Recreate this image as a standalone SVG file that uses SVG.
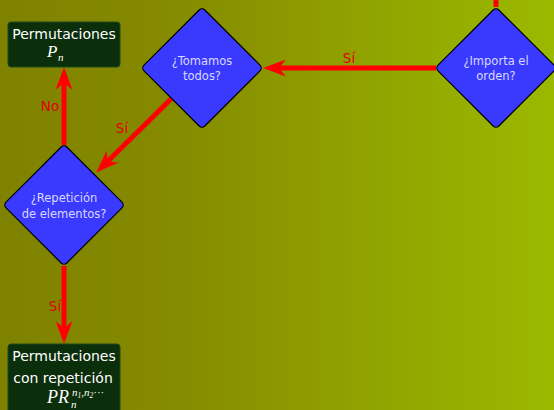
<svg xmlns="http://www.w3.org/2000/svg" width="554" height="410" viewBox="0 0 554 410">
<defs>
<linearGradient id="bg" x1="0" y1="0" x2="1" y2="0">
<stop offset="0" stop-color="#7f8200"/>
<stop offset="0.3" stop-color="#858a00"/>
<stop offset="1" stop-color="#9bb900"/>
</linearGradient>
<marker id="ah" viewBox="0 0 23 17" refX="15" refY="8.5" markerWidth="23" markerHeight="17" orient="auto" markerUnits="userSpaceOnUse">
<path d="M0,0 L23,8.5 L0,17 L7,8.5 Z" fill="#ff0000"/>
</marker>
<style>
.box{fill:#0b2e0b;stroke:#1f4a1f;stroke-width:1}
.dia{fill:#3a3aff;stroke:#000;stroke-width:1.2}
.bt{font-family:"DejaVu Sans",sans-serif;font-size:14px;fill:#ffffff;text-anchor:middle}
.dt{font-family:"DejaVu Sans",sans-serif;font-size:11.5px;fill:#d8d8ff;text-anchor:middle}
.m{font-family:"Liberation Serif",serif;font-style:italic;fill:#ffffff}
.lbl{font-family:"DejaVu Sans",sans-serif;font-size:13.5px;fill:#e00000;text-anchor:middle}
.c{stroke:#ff0000;stroke-width:5;fill:none}
</style>
</defs>
<rect width="554" height="410" fill="url(#bg)"/>
<g id="connectors">
<line class="c" x1="496" y1="0" x2="496" y2="7"/>
<line class="c" x1="436" y1="68" x2="271" y2="68" marker-end="url(#ah)"/>
<text class="lbl" x="349" y="63">Sí</text>
<line class="c" x1="172" y1="98" x2="102" y2="167" marker-end="url(#ah)"/>
<text class="lbl" x="122" y="133">Sí</text>
<line class="c" x1="64" y1="145" x2="64" y2="75" marker-end="url(#ah)"/>
<text class="lbl" x="50" y="111">No</text>
<line class="c" x1="64" y1="266" x2="64" y2="336" marker-end="url(#ah)"/>
<text class="lbl" x="55" y="311">Sí</text>
</g>
<g id="perm">
<rect class="box" x="8" y="22" width="112" height="45" rx="3"/>
<text class="bt" x="64" y="39">Permutaciones</text>
<text class="m" x="47" y="57" font-size="17">P</text>
<text class="m" x="58" y="61" font-size="11">n</text>
</g>
<g id="tomamos">
<rect class="dia" x="159" y="25" width="86" height="86" rx="4" transform="rotate(45 202 68)"/>
<text class="dt" x="202" y="65">¿Tomamos</text>
<text class="dt" x="202" y="80">todos?</text>
</g>
<g id="importa">
<rect class="dia" x="453" y="25" width="86" height="86" rx="4" transform="rotate(45 496 68)"/>
<text class="dt" x="496" y="65">¿Importa el</text>
<text class="dt" x="496" y="80">orden?</text>
</g>
<g id="repeticion">
<rect class="dia" x="21" y="162" width="86" height="86" rx="4" transform="rotate(45 64 205)"/>
<text class="dt" x="64" y="202">¿Repetición</text>
<text class="dt" x="64" y="218">de elementos?</text>
</g>
<g id="permrep">
<rect class="box" x="8" y="344" width="112" height="72" rx="3"/>
<text class="bt" x="64" y="361">Permutaciones</text>
<text class="bt" x="63" y="383">con repetición</text>
<text class="m" x="47" y="403" font-size="18">PR</text>
<text class="m" x="71" y="408" font-size="11">n</text>
<text class="m" x="72" y="396" font-size="11">n<tspan font-size="7.5" dy="2">1</tspan><tspan font-size="11" dy="-2">,n</tspan><tspan font-size="7.5" dy="2">2</tspan><tspan font-size="11" dy="-2" font-style="normal">···</tspan></text>
</g>
</svg>
